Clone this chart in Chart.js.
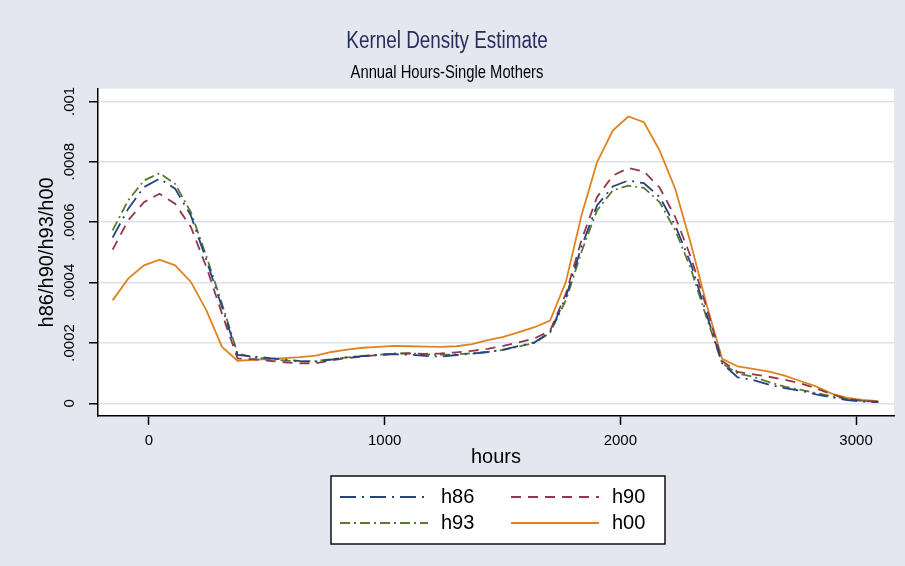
<!DOCTYPE html>
<html><head><meta charset="utf-8">
<script src="https://cdn.jsdelivr.net/npm/chart.js@4.4.1/dist/chart.umd.min.js"></script>
<style>html,body{margin:0;padding:0;background:#e4e7f0;}#wrap{width:905px;height:566px;}</style>
</head><body><div id="wrap"><canvas id="c" width="905" height="566"></canvas></div>
<script>
// evaluation points (hours)
const hours = [-154,-88,-21,45,111,178,244,310,376,443,509,575,642,708,774,841,907,973,1039,1106,1172,1238,1305,1371,1437,1504,1570,1636,1702,1769,1835,1901,1968,2034,2100,2167,2233,2299,2365,2432,2498,2564,2631,2697,2763,2830,2896,2962,3028,3095];
const h86 = [0.000549,0.000644,0.000716,0.000744,0.000711,0.000622,0.000474,0.000319,0.000160,0.000155,0.000150,0.000145,0.000140,0.000138,0.000145,0.000152,0.000156,0.000160,0.000163,0.000161,0.000157,0.000155,0.000160,0.000164,0.000170,0.000178,0.000190,0.000202,0.000236,0.000352,0.000518,0.000655,0.000718,0.000738,0.000729,0.000683,0.000589,0.000463,0.000297,0.000132,0.000086,0.000077,0.000062,0.000050,0.000042,0.000030,0.000020,0.000011,0.000006,0.000004];
const h90 = [0.000509,0.000606,0.000666,0.000694,0.000661,0.000584,0.000451,0.000297,0.000149,0.000146,0.000141,0.000136,0.000132,0.000133,0.000142,0.000150,0.000155,0.000160,0.000164,0.000165,0.000164,0.000165,0.000169,0.000174,0.000180,0.000190,0.000202,0.000215,0.000240,0.000363,0.000540,0.000683,0.000754,0.000779,0.000768,0.000714,0.000617,0.000485,0.000319,0.000140,0.000104,0.000096,0.000088,0.000078,0.000066,0.000050,0.000030,0.000015,0.000008,0.000005];
const h93 = [0.000573,0.000672,0.000738,0.000762,0.000727,0.000633,0.000487,0.000330,0.000165,0.000152,0.000147,0.000142,0.000138,0.000140,0.000146,0.000152,0.000157,0.000161,0.000165,0.000166,0.000162,0.000161,0.000162,0.000166,0.000170,0.000177,0.000188,0.000200,0.000234,0.000341,0.000501,0.000639,0.000705,0.000721,0.000714,0.000666,0.000573,0.000446,0.000286,0.000132,0.000099,0.000088,0.000070,0.000055,0.000045,0.000034,0.000024,0.000014,0.000008,0.000005];
const h00 = [0.000341,0.000413,0.000457,0.000476,0.000457,0.000402,0.000308,0.000187,0.000141,0.000144,0.000147,0.000150,0.000153,0.000158,0.000170,0.000178,0.000184,0.000187,0.000190,0.000189,0.000188,0.000187,0.000189,0.000196,0.000209,0.000220,0.000236,0.000252,0.000274,0.000402,0.000622,0.000798,0.000903,0.000950,0.000931,0.000837,0.000710,0.000529,0.000330,0.000147,0.000122,0.000114,0.000105,0.000092,0.000074,0.000056,0.000032,0.000018,0.000011,0.000007];
const seriesNames = ['h86','h90','h93','h00'];
const xTicks = [0,1000,2000,3000];
const xTickLabels = ['0','1000','2000','3000'];
const yTicks = [0,0.0002,0.0004,0.0006,0.0008,0.001];
const yTickLabels = ['0','.0002','.0004','.0006','.0008','.001'];
const chartTitle = 'Kernel Density Estimate';
const chartSubtitle = 'Annual Hours-Single Mothers';
const xTitle = 'hours';
const yTitle = 'h86/h90/h93/h00';

const toPts = arr => hours.map((h,i)=>({x:h,y:arr[i]}));
const styles = [
  {color:'#26427f', dash:[16,6,2,6]},
  {color:'#93384a', dash:[10,7]},
  {color:'#5a7a32', dash:[10,4,2,4]},
  {color:'#dd8420', dash:[]}
];
const seriesData = [h86,h90,h93,h00];
const datasets = seriesNames.map((n,i)=>({
  label:n, data:toPts(seriesData[i]), borderColor:styles[i].color, backgroundColor:styles[i].color,
  borderDash:styles[i].dash, borderWidth:1.8, pointRadius:0, tension:0, fill:false
}));

const SANS = '"Liberation Sans", Arial, Helvetica, sans-serif';

const bgPlugin = {
  id:'bg',
  beforeDraw(chart){
    const {ctx, chartArea:a} = chart;
    ctx.save();
    ctx.fillStyle='#e4e7f0'; ctx.fillRect(0,0,chart.width,chart.height);
    ctx.fillStyle='#ffffff'; ctx.fillRect(a.left,a.top,a.right-a.left,a.bottom-a.top);
    ctx.restore();
  }
};
// condense the title/subtitle horizontally (narrow typeface look)
const narrowPlugin = {
  id:'narrowTitles',
  beforeDraw(chart){
    chart.boxes.forEach(b=>{
      if (b && b.options && typeof b.options.text === 'string' && !b._narrowed && typeof b.draw === 'function'){
        const orig = b.draw;
        b._narrowed = true;
        b.draw = function(...args){
          const ctx = chart.ctx;
          const cx = (this.left + this.right)/2;
          ctx.save();
          ctx.translate(cx,0); ctx.scale(0.82,1); ctx.translate(-cx,0);
          orig.apply(this,args);
          ctx.restore();
        };
      }
    });
  }
};
const legendPlugin = {
  id:'legendBox',
  afterDraw(chart){
    const ctx = chart.ctx;
    ctx.save();
    const bx=331, by=476, bw=334, bh=68;
    ctx.fillStyle='#ffffff'; ctx.fillRect(bx,by,bw,bh);
    ctx.strokeStyle='#111'; ctx.lineWidth=1.5; ctx.strokeRect(bx,by,bw,bh);
    const cols=[340,511], rows=[497,523];
    chart.data.datasets.forEach((ds,i)=>{
      const cx=cols[i%2], cy=rows[Math.floor(i/2)];
      ctx.strokeStyle=ds.borderColor; ctx.lineWidth=ds.borderWidth; ctx.setLineDash(ds.borderDash||[]);
      ctx.beginPath(); ctx.moveTo(cx,cy); ctx.lineTo(cx+88,cy); ctx.stroke();
      ctx.setLineDash([]);
      ctx.fillStyle='#000'; ctx.font='20px '+SANS; ctx.textBaseline='middle'; ctx.textAlign='left';
      ctx.fillText(ds.label, cx+101, cy);
    });
    ctx.restore();
  }
};

new Chart(document.getElementById('c'), {
  type:'line',
  data:{datasets},
  plugins:[bgPlugin, narrowPlugin, legendPlugin],
  options:{
    responsive:false, animation:false, devicePixelRatio:1,
    layout:{padding:{left:0,right:11,top:0,bottom:0}},
    plugins:{
      legend:{display:false}, tooltip:{enabled:false},
      title:{display:true, text:chartTitle, color:'#252d5a', font:{family:SANS,size:23,weight:'normal'}, padding:{top:27.5,bottom:0}},
      subtitle:{display:true, text:chartSubtitle, color:'#000', font:{family:SANS,size:18,weight:'normal'}, padding:{top:7.5,bottom:4.5}}
    },
    scales:{
      x:{type:'linear', min:-216, max:3161,
        afterFit:s=>{s.height=150;},
        afterBuildTicks:s=>{s.ticks=xTicks.map(v=>({value:v}));},
        ticks:{autoSkip:false, maxRotation:0, minRotation:0, padding:7, color:'#000', font:{family:SANS,size:15},
          callback:(v,i)=>xTickLabels[i]},
        grid:{drawOnChartArea:false, drawTicks:true, tickLength:9, tickColor:'#000', tickWidth:1.5},
        border:{display:true,color:'#000',width:1.5},
        title:{display:true,text:xTitle,color:'#000',font:{family:SANS,size:20},padding:{top:0,bottom:97}}
      },
      y:{type:'linear', min:-0.000042, max:0.001042,
        afterFit:s=>{s.width=98;},
        afterBuildTicks:s=>{s.ticks=yTicks.map(v=>({value:v}));},
        ticks:{autoSkip:false, minRotation:90, maxRotation:90, crossAlign:'center', padding:0, color:'#000', font:{family:SANS,size:15},
          callback:(v,i)=>yTickLabels[i]},
        grid:{drawOnChartArea:true, color:'#dde1ec', lineWidth:1.5, drawTicks:true, tickLength:9, tickColor:'#000', tickWidth:1.5},
        border:{display:true,color:'#000',width:1.5},
        title:{display:true,text:yTitle,color:'#000',font:{family:SANS,size:20},padding:{top:35,bottom:0}}
      }
    }
  }
});
</script></body></html>
